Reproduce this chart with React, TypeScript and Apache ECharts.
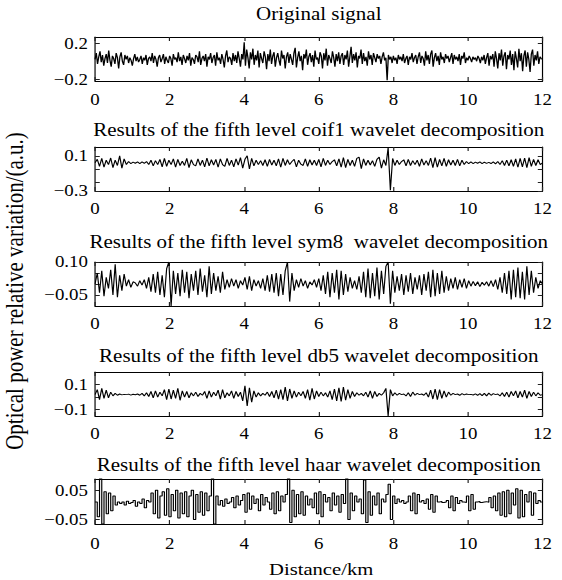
import React, { useEffect, useRef } from "react";
import * as echarts from "echarts";

// ---------- data ----------
const distanceMaxKm = 12;
const xTickValues = [0, 2, 4, 6, 8, 10, 12];

const panelTitles = [
  "Original signal",
  "Results of the fifth level coif1 wavelet decomposition",
  "Results of the fifth level sym8  wavelet decomposition",
  "Results of the fifth level db5 wavelet decomposition",
  "Results of the fifth level haar wavelet decomposition",
];

const yAxisTitle = "Optical power relative variation/(a.u.)";
const xAxisTitle = "Distance/km";

const originalSignal = [
  0.02, 0.09, -0.03, 0.05, 0.11, -0.01, 0.07, -0.05, 0.03, 0.08, -0.02, 0.12, 0.01, -0.06, 0.06, 0.03, -0.03, 0.09, 0.04, -0.08,
  0.05, 0.1, 0.0, -0.04, 0.07, 0.02, 0.06, -0.02, 0.04, 0.01, -0.05, 0.03, 0.08, 0.0, 0.05, -0.01, 0.02, 0.06, -0.03, 0.04,
  0.01, 0.07, -0.04, 0.03, 0.05, 0.0, 0.09, -0.02, 0.06, 0.02, -0.06, 0.04, 0.07, -0.01, 0.03, 0.08, -0.03, 0.05, 0.01, -0.02,
  0.06, 0.03, -0.05, 0.08, 0.02, 0.04, -0.01, 0.1, 0.0, 0.05, -0.04, 0.07, 0.03, -0.02, 0.06, 0.01, 0.09, -0.05, 0.04, 0.02,
  -0.03, 0.07, 0.05, -0.01, 0.11, -0.04, 0.03, 0.06, 0.0, 0.08, -0.06, 0.05, 0.02, 0.09, -0.02, 0.04, 0.07, -0.05, 0.1, 0.01,
  0.04, -0.03, 0.08, 0.02, -0.07, 0.06, 0.12, -0.01, 0.05, 0.03, -0.04, 0.09, 0.0, 0.07, -0.02, 0.11, 0.03, -0.06, 0.08, 0.02,
  0.21, -0.05, 0.13, 0.04, -0.08, 0.1, 0.02, 0.14, -0.04, 0.07, 0.01, 0.12, -0.07, 0.09, 0.03, -0.02, 0.11, 0.05, -0.09, 0.08,
  0.0, 0.13, -0.03, 0.06, 0.1, -0.06, 0.04, 0.09, 0.01, -0.05, 0.12, 0.03, 0.07, -0.08, 0.05, 0.1, -0.02, 0.08, 0.02, -0.04,
  0.09, 0.15, -0.07, 0.04, 0.11, 0.0, 0.06, -0.1, 0.08, 0.03, 0.13, -0.04, 0.05, 0.09, -0.01, 0.07, -0.06, 0.12, 0.02, 0.04,
  -0.03, 0.1, 0.06, -0.08, 0.09, 0.01, 0.14, -0.05, 0.07, 0.03, -0.02, 0.11, 0.04, -0.06, 0.08, 0.0, 0.1, -0.03, 0.06, 0.09,
  -0.04, 0.07, 0.02, 0.12, -0.06, 0.05, 0.16, -0.02, 0.08, 0.01, 0.1, -0.07, 0.06, 0.03, 0.13, -0.03, 0.09, 0.0, 0.05, -0.05,
  0.11, 0.02, 0.07, -0.04, 0.09, 0.04, -0.01, 0.08, 0.03, 0.06, -0.03, 0.05, 0.1, 0.01, 0.04, -0.21, 0.07, 0.02, 0.05, -0.02,
  0.06, 0.01, 0.04, -0.03, 0.07, 0.02, 0.05, 0.0, 0.08, -0.02, 0.03, 0.06, -0.04, 0.05, 0.02, 0.09, -0.01, 0.04, 0.07, -0.03,
  0.05, 0.1, -0.02, 0.06, 0.03, -0.05, 0.11, 0.01, 0.07, -0.03, 0.08, 0.12, -0.06, 0.04, 0.09, 0.0, 0.06, -0.04, 0.1, 0.02,
  0.05, -0.02, 0.08, 0.03, 0.06, -0.01, 0.04, 0.09, -0.03, 0.07, 0.02, 0.05, 0.0, 0.08, -0.04, 0.06, 0.03, 0.1, -0.02, 0.04,
  0.01, 0.06, 0.03, -0.01, 0.05, 0.02, 0.04, 0.0, 0.06, 0.03, -0.02, 0.05, 0.01, 0.07, -0.03, 0.04, 0.09, -0.05, 0.06, 0.02,
  0.08, -0.06, 0.11, 0.03, -0.08, 0.09, 0.01, 0.13, -0.05, 0.06, 0.1, -0.09, 0.07, 0.02, 0.12, -0.04, 0.08, -0.1, 0.11, 0.03,
  -0.07, 0.14, 0.0, 0.09, -0.11, 0.06, 0.12, -0.06, 0.1, 0.02, -0.12, 0.08, 0.13, -0.05, 0.07, 0.01, 0.11, -0.03, 0.05, 0.03,
  0.02,
];

const coif1Signal = [
  0.02, 0.06, -0.02, 0.07, -0.03, 0.05, 0.0, 0.075, -0.035, 0.05, -0.01, 0.1, -0.04, 0.065, 0.0, 0.035, 0.012, 0.028, 0.015, 0.03,
  0.01, 0.03, 0.015, 0.035, 0.0, 0.05, -0.015, 0.045, 0.0, 0.06, -0.025, 0.07, -0.02, 0.05, 0.0, 0.065, -0.03, 0.06, -0.01, 0.04,
  -0.01, 0.07, -0.035, 0.055, 0.0, -0.015, 0.065, -0.01, 0.05, -0.025, 0.075, -0.015, 0.055, -0.005, 0.06, -0.03, 0.065, 0.0, -0.02, 0.07,
  -0.01, 0.05, -0.025, 0.065, -0.005, 0.08, -0.04, 0.06, 0.1, -0.05, 0.07, -0.015, 0.05, 0.0, 0.045, -0.01, 0.055, -0.02, 0.06, -0.005,
  0.05, -0.015, 0.065, -0.03, 0.07, -0.01, 0.055, 0.0, 0.035, 0.06, -0.025, 0.05, 0.005, -0.01, 0.065, -0.02, 0.055, -0.005, 0.05, -0.01,
  0.06, -0.025, 0.07, -0.01, 0.05, 0.0, 0.035, 0.055, -0.015, 0.065, -0.03, 0.08, -0.035, 0.06, -0.01, 0.05, -0.02, 0.07, 0.085, -0.045,
  0.065, -0.01, 0.05, -0.005, 0.045, -0.02, 0.06, 0.085, -0.04, 0.055, -0.01, 0.19, -0.29, 0.07, -0.01, 0.05, 0.0, 0.035, 0.055, -0.015,
  0.06, -0.01, 0.045, 0.0, 0.05, -0.02, 0.065, -0.005, 0.045, -0.01, 0.075, -0.035, 0.08, -0.03, 0.06, -0.015, 0.07, -0.02, 0.055, -0.005,
  0.05, -0.01, 0.06, -0.015, 0.05, 0.0, 0.035, 0.01, 0.03, 0.012, 0.028, 0.015, 0.03, 0.01, 0.027, 0.014, 0.026, 0.012, 0.03, 0.008,
  0.035, 0.0, 0.045, -0.01, 0.05, -0.015, 0.055, -0.02, 0.065, -0.03, 0.07, -0.025, 0.075, -0.035, 0.08, -0.02, 0.06, -0.01, 0.055, 0.0,
  0.02,
];

const sym8Signal = [
  0.0, 0.05, -0.04, 0.06, -0.055, 0.03, -0.02, 0.065, -0.05, 0.09, -0.06, 0.04, -0.03, 0.045, -0.01, 0.02, -0.015, 0.01, 0.005, -0.01,
  0.015, -0.005, 0.02, -0.02, 0.03, -0.035, 0.045, -0.04, 0.055, -0.05, 0.04, -0.06, 0.07, 0.1, -0.1, 0.06, -0.045, 0.05, -0.055, 0.065,
  -0.04, 0.055, -0.065, 0.045, -0.03, 0.06, -0.05, 0.07, -0.035, 0.04, -0.06, 0.08, -0.045, 0.05, -0.03, 0.035, -0.04, 0.055, -0.025, 0.02,
  -0.015, 0.025, -0.01, 0.02, -0.02, 0.015, -0.005, 0.03, -0.025, 0.035, -0.03, 0.02, -0.01, 0.015, -0.02, 0.025, -0.03, 0.04, -0.035, 0.045,
  -0.04, 0.05, -0.055, 0.045, -0.05, 0.06, 0.1, -0.08, 0.05, -0.03, 0.02, -0.015, 0.025, -0.01, 0.015, -0.02, 0.01, -0.005, 0.02, -0.015,
  0.025, -0.03, 0.04, -0.045, 0.055, -0.06, 0.05, -0.04, 0.065, -0.07, 0.06, -0.05, 0.045, -0.035, 0.03, -0.02, 0.015, -0.025, 0.035, -0.04,
  0.055, -0.06, 0.07, -0.065, 0.05, -0.055, 0.075, -0.07, 0.06, -0.045, 0.08, 0.1, -0.09, 0.06, -0.04, 0.035, -0.03, 0.045, -0.05, 0.04,
  -0.035, 0.05, -0.045, 0.03, -0.025, 0.04, -0.05, 0.045, -0.03, 0.055, -0.06, 0.065, -0.055, 0.05, -0.045, 0.06, -0.04, 0.035, -0.03, 0.025,
  -0.02, 0.03, -0.025, 0.02, -0.015, 0.025, -0.02, 0.015, -0.01, 0.012, -0.008, 0.01, -0.012, 0.008, -0.006, 0.01, -0.01, 0.015, -0.012, 0.02,
  -0.025, 0.03, -0.04, 0.05, -0.045, 0.06, -0.07, 0.065, -0.06, 0.075, -0.065, 0.055, -0.07, 0.08, -0.05, 0.06, -0.04, 0.03, -0.02, 0.015,
  0.0,
];

const db5Signal = [
  0.02, 0.06, -0.02, 0.07, -0.01, 0.055, -0.005, 0.04, 0.01, 0.03, 0.015, 0.025, 0.018, 0.022, 0.02, 0.024, 0.016, 0.023, 0.019, 0.025,
  0.015, 0.03, 0.01, 0.035, 0.005, 0.045, -0.005, 0.05, 0.0, 0.04, 0.01, 0.06, -0.02, 0.065, -0.015, 0.055, -0.01, 0.07, -0.025, 0.05,
  0.0, 0.045, -0.005, 0.035, 0.01, 0.04, 0.005, 0.03, 0.015, 0.045, -0.01, 0.05, 0.0, 0.04, 0.01, 0.055, -0.015, 0.06, -0.005, 0.035,
  0.01, 0.05, -0.01, 0.045, 0.005, 0.04, -0.03, 0.09, -0.07, 0.075, -0.04, 0.05, 0.0, 0.035, 0.01, 0.03, 0.015, 0.04, 0.005, 0.045,
  -0.005, 0.055, -0.015, 0.06, -0.02, 0.08, -0.03, 0.065, -0.01, 0.05, 0.0, 0.04, 0.01, 0.045, -0.01, 0.06, -0.025, 0.07, -0.015, 0.05,
  0.005, 0.04, 0.01, 0.035, 0.0, 0.05, -0.02, 0.065, -0.03, 0.075, -0.035, 0.08, -0.025, 0.06, -0.01, 0.045, 0.005, 0.035, 0.015, 0.03,
  0.01, 0.04, 0.0, 0.05, -0.01, 0.045, 0.005, 0.03, 0.015, 0.035, 0.07, -0.15, 0.06, 0.01, 0.035, 0.015, 0.03, 0.02, 0.025, 0.01,
  0.035, 0.005, 0.04, 0.015, 0.03, 0.02, 0.025, 0.015, 0.035, 0.0, 0.055, -0.015, 0.065, -0.02, 0.06, -0.01, 0.05, 0.0, 0.04, 0.015,
  0.03, 0.02, 0.025, 0.015, 0.028, 0.018, 0.025, 0.02, 0.022, 0.017, 0.026, 0.015, 0.028, 0.012, 0.03, 0.01, 0.032, 0.015, 0.028, 0.02,
  0.025, 0.01, 0.035, 0.005, 0.04, 0.0, 0.045, 0.01, 0.05, -0.005, 0.045, 0.0, 0.055, -0.01, 0.045, 0.005, 0.04, 0.01, 0.035, 0.015,
  0.02,
];

const haarSignal = [
  0.01, -0.04, 0.09, -0.065, 0.045, -0.03, 0.04, -0.02, 0.03, 0.0, 0.01, 0.005, 0.01, 0.0, 0.012, 0.005, 0.008, 0.015, -0.005, 0.01,
  0.005, 0.02, -0.01, 0.015, 0.01, 0.04, -0.03, 0.05, -0.045, 0.03, 0.045, -0.035, 0.055, -0.04, 0.035, -0.02, 0.05, -0.045, 0.04, -0.03,
  0.045, -0.04, 0.03, 0.05, -0.05, 0.035, -0.025, 0.045, -0.035, 0.04, -0.02, 0.03, 0.09, -0.065, 0.03, 0.0, 0.015, -0.005, 0.02, 0.005,
  0.01, 0.025, -0.01, 0.03, 0.0, 0.015, 0.035, -0.025, 0.04, -0.015, 0.03, 0.005, 0.02, -0.02, 0.035, 0.0, 0.025, 0.01, -0.015, 0.04,
  -0.03, 0.045, -0.02, 0.03, 0.01, 0.035, 0.09, -0.06, 0.05, -0.04, 0.035, -0.03, 0.045, -0.035, 0.03, 0.0, 0.02, -0.01, 0.04, -0.03,
  0.045, -0.04, 0.035, 0.01, 0.025, -0.02, 0.04, 0.0, 0.03, -0.025, 0.035, 0.005, 0.09, -0.05, 0.04, -0.02, 0.03, 0.01, 0.02, -0.03,
  0.085, -0.06, 0.045, -0.035, 0.03, 0.0, 0.04, -0.03, 0.02, 0.01, 0.035, 0.07, -0.05, 0.03, 0.005, 0.02, 0.01, 0.015, 0.005, 0.01,
  0.03, -0.02, 0.04, -0.03, 0.035, 0.01, 0.015, 0.005, 0.02, -0.015, 0.035, -0.025, 0.03, 0.01, 0.012, 0.008, 0.01, 0.015, -0.01, 0.03,
  -0.02, 0.025, 0.005, 0.015, 0.01, 0.008, 0.03, -0.02, 0.035, -0.015, 0.01, 0.012, 0.008, 0.01, 0.011, 0.009, 0.025, -0.01, 0.03, -0.02,
  0.04, -0.035, 0.045, -0.04, 0.05, -0.03, 0.04, 0.0, 0.055, -0.045, 0.05, -0.04, 0.035, 0.01, 0.045, -0.035, 0.04, 0.005, 0.015, 0.01,
  0.01,
];

const panelSignals = [originalSignal, coif1Signal, sym8Signal, db5Signal, haarSignal];
const yMins = [-0.22, -0.3, -0.1, -0.15, -0.065];
const yMaxs = [0.27, 0.2, 0.1, 0.2, 0.088];
const yLabelValues = [
  [-0.2, 0.2],
  [-0.3, 0.1],
  [-0.05, 0.1],
  [-0.1, 0.1],
  [-0.05, 0.05],
];
const yTickValues = [
  [-0.2, 0.2],
  [-0.3, -0.2, -0.05, 0.1],
  [-0.05, 0, 0.05, 0.1],
  [-0.1, 0, 0.1],
  [-0.05, 0.05],
];
const yLabelDecimals = [1, 1, 2, 1, 2];

// ---------- layout ----------
const PAGE_W = 562;
const PAGE_H = 580;
const CHART_W = 476; // drawn narrower, then stretched horizontally like the reference
const STRETCH = PAGE_W / CHART_W;
const FONT = "Liberation Serif, Times New Roman, serif";
const BOX_LEFT = 80.5;
const BOX_WIDTH = 379;
const BOX_TOPS = [37, 147, 262, 372, 479];
const BOX_HEIGHTS = [44, 44, 44, 44, 45];
const TITLE_YS = [14, 130, 242, 356, 465];
const X_LABEL_MARGINS = [11, 10, 10, 10, 12];
const LINE_WIDTHS = [1.1, 1, 1, 1, 1];

function fmt(v: number, d: number) {
  const s = Math.abs(v).toFixed(d);
  return v < 0 ? "\u2212" + s : s;
}

export default function App() {
  const ref = useRef<HTMLDivElement>(null);

  useEffect(() => {
    if (!ref.current) return;
    const chart = echarts.init(ref.current, undefined, { renderer: "svg" });

    const grids: any[] = [];
    const xAxes: any[] = [];
    const yAxes: any[] = [];
    const series: any[] = [];
    const graphics: any[] = [];
    const axisLine = { show: true, onZero: false, lineStyle: { color: "#000", width: 1 } };
    const tickStyle = { color: "#222", width: 1 };

    panelSignals.forEach((sig, i) => {
      grids.push({ left: BOX_LEFT, width: BOX_WIDTH, top: BOX_TOPS[i], height: BOX_HEIGHTS[i], containLabel: false });
      const n = sig.length;
      const data = sig.map((v, k) => [(k * distanceMaxKm) / (n - 1), v]);
      xAxes.push({
        type: "value", gridIndex: i, position: "bottom", min: 0, max: distanceMaxKm, interval: 2,
        axisLine, splitLine: { show: false },
        axisTick: { show: true, inside: true, length: 4, lineStyle: tickStyle, customValues: xTickValues },
        axisLabel: { show: true, margin: X_LABEL_MARGINS[i], color: "#000", fontFamily: FONT, fontSize: 16, customValues: xTickValues },
      });
      xAxes.push({
        type: "value", gridIndex: i, position: "top", min: 0, max: distanceMaxKm, interval: 2,
        axisLine, splitLine: { show: false },
        axisTick: { show: true, inside: true, length: 4, lineStyle: tickStyle, customValues: xTickValues },
        axisLabel: { show: false },
      });
      yAxes.push({
        type: "value", gridIndex: i, position: "left", min: yMins[i], max: yMaxs[i],
        axisLine, splitLine: { show: false },
        axisTick: { show: true, inside: true, length: 4, lineStyle: tickStyle, customValues: yTickValues[i] },
        axisLabel: {
          show: true, margin: 6, color: "#000", fontFamily: FONT, fontSize: 16,
          customValues: yLabelValues[i],
          formatter: (v: number) => fmt(v, yLabelDecimals[i]),
        },
      });
      yAxes.push({
        type: "value", gridIndex: i, position: "right", min: yMins[i], max: yMaxs[i],
        axisLine, splitLine: { show: false },
        axisTick: { show: true, inside: true, length: 4, lineStyle: tickStyle, customValues: yTickValues[i] },
        axisLabel: { show: false },
      });
      series.push({
        type: "line", xAxisIndex: 2 * i, yAxisIndex: 2 * i, data,
        showSymbol: false, symbol: "none", step: i === 4 ? "end" : false,
        lineStyle: { color: "#000", width: LINE_WIDTHS[i] },
        clip: true, silent: true,
      });
      graphics.push({
        type: "text", x: BOX_LEFT + BOX_WIDTH / 2, y: TITLE_YS[i],
        style: { text: panelTitles[i], fill: "#000", font: `17.8px ${FONT}`, textAlign: "center", textVerticalAlign: "middle" },
      });
    });

    graphics.push({
      type: "text", x: 12.5, y: 291, rotation: Math.PI / 2,
      style: { text: yAxisTitle, fill: "#000", font: `21px ${FONT}`, textAlign: "center", textVerticalAlign: "middle" },
    });
    graphics.push({
      type: "text", x: 272, y: 569,
      style: { text: xAxisTitle, fill: "#000", font: `17.5px ${FONT}`, textAlign: "center", textVerticalAlign: "middle" },
    });

    chart.setOption({
      animation: false,
      backgroundColor: "#fff",
      textStyle: { fontFamily: FONT },
      grid: grids,
      xAxis: xAxes,
      yAxis: yAxes,
      series,
      graphic: graphics,
    });
    return () => chart.dispose();
  }, []);

  return (
    <div
      style={{
        position: "absolute", left: 0, top: 0, width: PAGE_W, height: PAGE_H, overflow: "hidden", background: "#fff",
      }}
    >
      <div
        ref={ref}
        style={{
          width: CHART_W, height: PAGE_H, transform: `scaleX(${STRETCH})`, transformOrigin: "0 0",
        }}
      />
    </div>
  );
}
